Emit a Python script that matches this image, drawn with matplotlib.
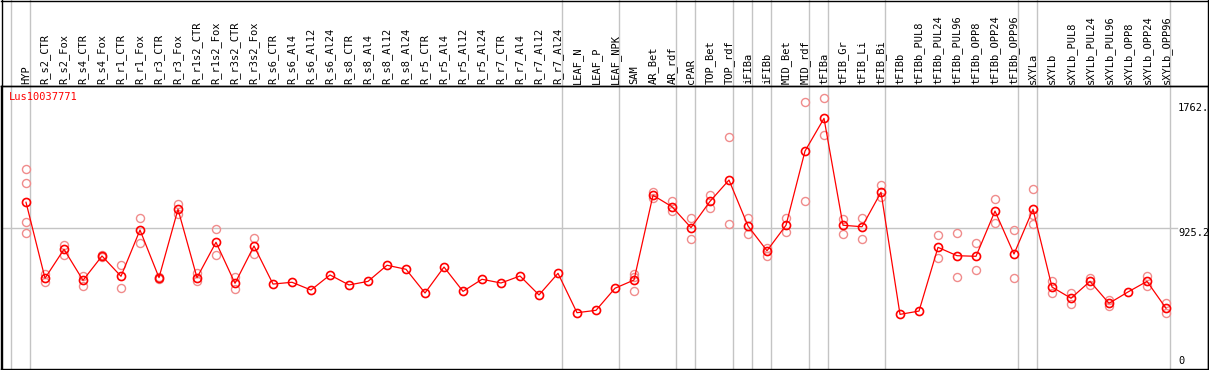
import matplotlib
matplotlib.use("Agg")
import matplotlib.pyplot as plt
import matplotlib.transforms as mtransforms

# sample names, in plotting order
samples = [
    "HYP", "R_s2_CTR", "R_s2_Fox", "R_s4_CTR", "R_s4_Fox", "R_r1_CTR", "R_r1_Fox",
    "R_r3_CTR", "R_r3_Fox", "R_r1s2_CTR", "R_r1s2_Fox", "R_r3s2_CTR", "R_r3s2_Fox",
    "R_s6_CTR", "R_s6_Al4", "R_s6_Al12", "R_s6_Al24", "R_s8_CTR", "R_s8_Al4",
    "R_s8_Al12", "R_s8_Al24", "R_r5_CTR", "R_r5_Al4", "R_r5_Al12", "R_r5_Al24",
    "R_r7_CTR", "R_r7_Al4", "R_r7_Al12", "R_r7_Al24", "LEAF_N", "LEAF_P", "LEAF_NPK",
    "SAM", "AR_Bet", "AR_rdf", "cPAR", "TOP_Bet", "TOP_rdf", "iFIBa", "iFIBb",
    "MID_Bet", "MID_rdf", "tFIBa", "tFIB_Gr", "tFIB_Li", "tFIB_Bi", "tFIBb",
    "tFIBb_PUL8", "tFIBb_PUL24", "tFIBb_PUL96", "tFIBb_OPP8", "tFIBb_OPP24",
    "tFIBb_OPP96", "sXYLa", "sXYLb", "sXYLb_PUL8", "sXYLb_PUL24", "sXYLb_PUL96",
    "sXYLb_OPP8", "sXYLb_OPP24", "sXYLb_OPP96",
]

# mean expression per sample
means = [
    1097, 588, 782, 574, 737, 601, 911, 592, 1050, 592, 829, 554, 804,
    549, 561, 509, 610, 543, 567, 675, 648, 489, 663, 500, 581,
    556, 603, 476, 621, 357, 373, 521,
    576, 1144, 1067, 927, 1103, 1246, 938, 772,
    943, 1440, 1659, 943, 933, 1164, 346,
    368, 795, 739, 735, 1038, 750,
    1050, 529, 454, 567, 420, 496, 567, 387,
]

# individual replicates (empty where they sit on the mean)
replicates = [
    [1318, 1224, 963, 889], [616, 561], [813, 746], [605, 538], [746, 728],
    [675, 525], [990, 822], [598, 585], [1085, 1018], [625, 567], [916, 746],
    [594, 514], [858, 752],
    [], [], [], [], [], [], [], [], [], [], [], [],
    [], [], [], [], [], [], [],
    [614, 502, 598], [1168, 1124], [1107, 1040], [992, 849], [1146, 1057],
    [1532, 949], [994, 884], [793, 739],
    [994, 900], [1767, 1103], [1793, 1548], [983, 886], [994, 849], [1211, 1134], [],
    [], [876, 722], [889, 594], [822, 641], [1117, 956], [909, 588],
    [1184, 1012, 949], [569, 487], [491, 413], [592, 541], [442, 402], [],
    [603, 538], [424, 353],
]

# columns that start a new sample group (gray separators)
group_starts = [0, 1, 29, 32, 35, 36, 38, 39, 40, 42, 43, 46, 53, 54, 61]

gene = "Lus10037771"
tick_values = [1762.0, 925.2, 0]
tick_labels = ["1762.", "925.2", "0"]

W, H = 1209, 370
fig = plt.figure(figsize=(W / 100, H / 100), dpi=100)
fig.patch.set_facecolor("white")
ax = fig.add_axes([1 / W, 1 / H, 1207 / W, (369 - 85.5) / H])
ax.set_facecolor("none")

# pixel layout: column i at x = 26 + 19 i, value v at y = 366 - v * 263 / 1762
ax.set_xlim((1 - 26) / 19, (1208 - 26) / 19)
scale = 1762 / 263
ax.set_ylim(-(369 - 366) * scale, (366 - 85.5) * scale)
ax.set_xticks([])
ax.set_yticks([])
for s in ax.spines.values():
    s.set_linewidth(1.0)
    s.set_color("black")

grey = "#c4c4c4"
font = "DejaVu Sans Mono"
fs = 7.5

# vertical group separators span the whole figure, header included
vtrans = mtransforms.blended_transform_factory(ax.transData, fig.transFigure)
for k in group_starts:
    ax.plot([k - 15 / 19, k - 15 / 19], [0, 1], color=grey, lw=1.0,
            transform=vtrans, clip_on=False, zorder=1)

# horizontal reference line
ax.plot([ax.get_xlim()[0], (1177 - 26) / 19], [tick_values[1]] * 2,
        color=grey, lw=1.0, zorder=1)

# header box
fig.add_artist(plt.Line2D([1 / W, 1208 / W], [1 - 85.5 / H] * 2, color="black", lw=1.0))
fig.add_artist(plt.Line2D([1 / W, 1208 / W], [1 - 0.5 / H] * 2, color="black", lw=1.0))
fig.add_artist(plt.Line2D([1.5 / W] * 2, [0, 1], color="black", lw=1.0))
fig.add_artist(plt.Line2D([1207.5 / W] * 2, [0, 1], color="black", lw=1.0))

for i, name in enumerate(samples):
    ax.text(i, 1 - 83.5 / H, name, transform=vtrans, rotation=90,
            ha="center", va="bottom", fontsize=fs, family=font, color="black")

# replicates
rx, ry = [], []
for i, reps in enumerate(replicates):
    for v in reps:
        rx.append(i)
        ry.append(v)
ax.plot(rx, ry, ls="none", marker="o", ms=5.8, mfc="none", mec="#f08c8c",
        mew=1.0, zorder=3)

# mean profile
xs = list(range(len(samples)))
ax.plot(xs, means, color="red", lw=0.9, zorder=4)
ax.plot(xs, means, ls="none", marker="o", ms=5.8, mfc="none", mec="red",
        mew=1.2, zorder=5)

ax.text(9 / W, 1 - 92 / H, gene, transform=fig.transFigure, color="red",
        fontsize=fs, family=font, ha="left", va="top")

ytrans = mtransforms.blended_transform_factory(fig.transFigure, ax.transData)
for v, lab in zip(tick_values, tick_labels):
    ax.text(1178 / W, v, lab, transform=ytrans, ha="left",
            va="bottom" if v == 0 else "top", fontsize=fs, family=font,
            color="black")

fig.savefig("out.png", dpi=100)
